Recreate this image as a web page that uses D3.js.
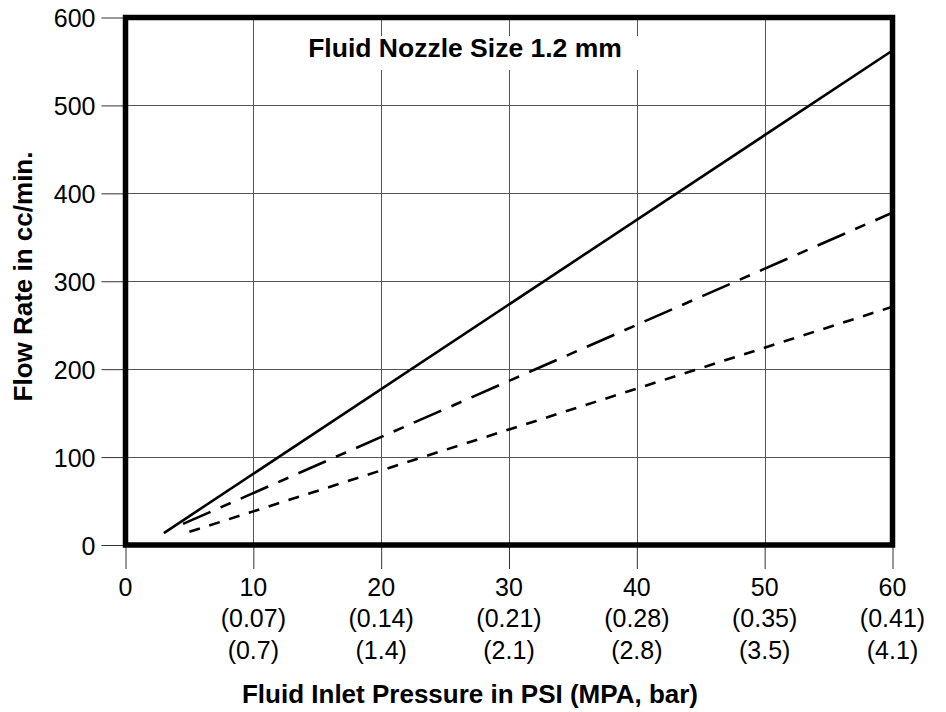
<!DOCTYPE html>
<html>
<head>
<meta charset="utf-8">
<script src="https://cdn.jsdelivr.net/npm/d3@7"></script>
<style>
  html, body { margin: 0; padding: 0; background: #fff; }
  svg { display: block; font-family: "Liberation Sans", Arial, Helvetica, sans-serif; }
</style>
</head>
<body>
<svg id="chart" width="946" height="712"></svg>
<script>
const psiTicks = [0, 10, 20, 30, 40, 50, 60];
const mpaLabels = ["", "(0.07)", "(0.14)", "(0.21)", "(0.28)", "(0.35)", "(0.41)"];
const barLabels = ["", "(0.7)", "(1.4)", "(2.1)", "(2.8)", "(3.5)", "(4.1)"];
const flowTicks = [0, 100, 200, 300, 400, 500, 600];

const solidLine = [[3, 13.6], [60, 562.5]];
const dashDotLine = [[4.5, 24], [60, 378]];
const dashLine = [[5, 15], [60, 271]];

const chartTitle = "Fluid Nozzle Size 1.2 mm";
const xTitle = "Fluid Inlet Pressure in PSI (MPA, bar)";
const yTitle = "Flow Rate in cc/min.";

const svg = d3.select("#chart");
const L = 125.5, R = 892.5, T = 17.5, B = 545;

const x = d3.scaleLinear().domain([0, 60]).range([L, R]);
const y = d3.scaleLinear().domain([0, 600]).range([B, T]);

// gridlines
const grid = svg.append("g");
grid.selectAll(".vg").data(psiTicks.slice(1, -1)).join("line")
  .attr("x1", d => Math.round(x(d)) + 0.5).attr("x2", d => Math.round(x(d)) + 0.5)
  .attr("y1", T).attr("y2", B)
  .attr("stroke", "#555").attr("stroke-width", 1);
grid.selectAll(".hg").data(flowTicks.slice(1, -1)).join("line")
  .attr("y1", d => Math.round(y(d)) + 0.5).attr("y2", d => Math.round(y(d)) + 0.5)
  .attr("x1", L).attr("x2", R)
  .attr("stroke", "#555").attr("stroke-width", 1);

// axes
const xAxis = svg.append("g").attr("transform", `translate(0,${B})`)
  .call(d3.axisBottom(x).tickValues(psiTicks).tickSize(24).tickFormat(d3.format("d")));
xAxis.select(".domain").remove();
xAxis.selectAll(".tick line").attr("stroke", "#333").attr("stroke-width", 1);
xAxis.selectAll(".tick text").remove();

const yAxis = svg.append("g").attr("transform", `translate(${L},0)`)
  .call(d3.axisLeft(y).tickValues(flowTicks).tickSize(24).tickFormat(d3.format("d")));
yAxis.select(".domain").remove();
yAxis.selectAll(".tick line").attr("stroke", "#333").attr("stroke-width", 1);
yAxis.selectAll(".tick text")
  .attr("x", -30).attr("dy", "0.36em")
  .attr("font-size", 25).attr("fill", "#000")
  .attr("font-family", "'Liberation Sans', Arial, sans-serif");

// x tick labels (three rows)
const xl = svg.append("g").attr("font-size", 25).attr("text-anchor", "middle").attr("fill", "#000");
psiTicks.forEach((d, i) => {
  xl.append("text").attr("x", x(d)).attr("y", 596).text(d);
  if (mpaLabels[i]) xl.append("text").attr("x", x(d)).attr("y", 627).text(mpaLabels[i]);
  if (barLabels[i]) xl.append("text").attr("x", x(d)).attr("y", 659).text(barLabels[i]);
});

// data lines
const line = d3.line().x(d => x(d[0])).y(d => y(d[1]));
svg.append("path").datum(solidLine).attr("d", line)
  .attr("fill", "none").attr("stroke", "#000").attr("stroke-width", 2.6);
svg.append("path").datum(dashDotLine).attr("d", line)
  .attr("fill", "none").attr("stroke", "#000").attr("stroke-width", 2.6)
  .attr("stroke-dasharray", "30,11,11,11");
svg.append("path").datum(dashLine).attr("d", line)
  .attr("fill", "none").attr("stroke", "#000").attr("stroke-width", 2.6)
  .attr("stroke-dasharray", "11,9.8");

// title with white box
svg.append("rect").attr("x", 300).attr("y", 36).attr("width", 345).attr("height", 34).attr("fill", "#fff");
svg.append("text").attr("x", 465).attr("y", 57)
  .attr("text-anchor", "middle").attr("font-size", 26.5).attr("font-weight", "bold")
  .attr("fill", "#000").text(chartTitle);

// frame
svg.append("rect").attr("x", L).attr("y", T).attr("width", R - L).attr("height", B - T)
  .attr("fill", "none").attr("stroke", "#000").attr("stroke-width", 5.5);

// axis titles
svg.append("text").attr("x", 470).attr("y", 703)
  .attr("text-anchor", "middle").attr("font-size", 26).attr("font-weight", "bold")
  .attr("fill", "#000").text(xTitle);
svg.append("text").attr("transform", "translate(32,276.5) rotate(-90)")
  .attr("text-anchor", "middle").attr("font-size", 26).attr("font-weight", "bold")
  .attr("fill", "#000").text(yTitle);
</script>
</body>
</html>
